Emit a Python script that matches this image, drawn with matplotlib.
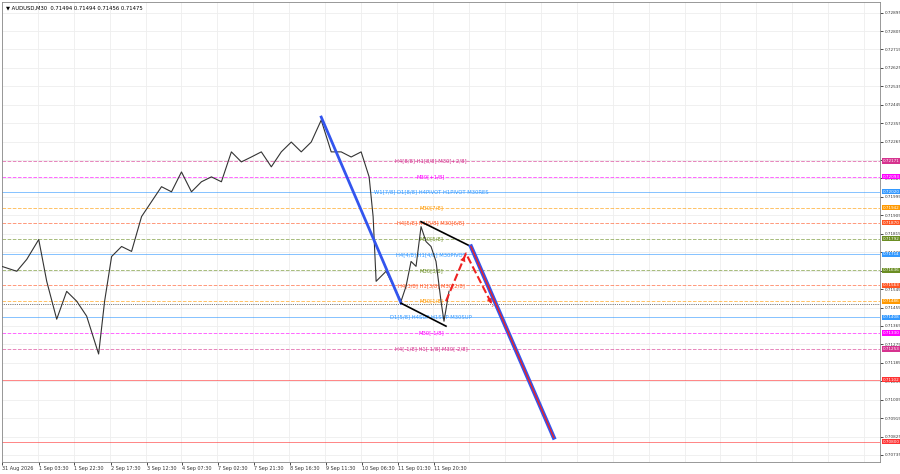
import matplotlib.pyplot as plt

# price path (bar position, close)
bar_x = [0, 15, 25, 37, 45, 55, 65, 75, 85, 97, 103, 110, 120, 130, 140, 150, 160, 170, 180, 190,
         200, 210, 220, 230, 240, 250, 260, 270, 280, 290, 300, 310, 320, 330, 340, 350, 360, 368,
         372, 375, 385, 395, 400, 405, 410, 415, 420, 425, 430, 435, 440, 443, 448]
closes = [0.71656, 0.71632, 0.71690, 0.71787, 0.71583, 0.71398, 0.71534, 0.71486, 0.71413, 0.71228,
          0.71486, 0.71704, 0.71753, 0.71729, 0.71899, 0.71972, 0.72045, 0.72020, 0.72117, 0.72020,
          0.72069, 0.72093, 0.72069, 0.72215, 0.72166, 0.72190, 0.72215, 0.72142, 0.72215, 0.72263,
          0.72215, 0.72263, 0.72370, 0.72215, 0.72215, 0.72190, 0.72215, 0.72093, 0.71899, 0.71583,
          0.71632, 0.71534, 0.71486, 0.71559, 0.71680, 0.71656, 0.71850, 0.71777, 0.71753, 0.71680,
          0.71486, 0.71388, 0.71534]

# murrey levels: price, colour, style, label
lvl_price = [0.72171, 0.72093, 0.72020, 0.71942, 0.71870, 0.71792, 0.71714, 0.71636, 0.71563,
             0.71486, 0.71408, 0.71330, 0.71253, 0.71102, 0.70800]
lvl_color = ['#d6338f', '#ff00ff', '#3399ff', '#ff9900', '#ff5522', '#6b8e23', '#3399ff', '#6b8e23',
             '#ff5522', '#ff9900', '#3399ff', '#ff00ff', '#d6338f', '#ff3333', '#ff3333']
lvl_style = ['--', '--', '-', '--', '--', '--', '-', '--', '--', '--', '-', '--', '--', '-', '-']
lvl_label = ['H4[8/8] H1[8/8] M30[+2/8]', 'M30[+1/8]', 'W1[7/8] D1[8/8] H4PIVOT H1PIVOT M30RES',
             'M30[7/8]', 'H4[5/8] H1[5/8] M30[6/8]', 'M30[5/8]', 'H4[4/8] H1[4/8] M30PIVOT',
             'M30[3/8]', 'H4[3/8] H1[3/8] M30[2/8]', 'M30[1/8]', 'D1[5/8] H4SUP H1SUP M30SUP',
             'M30[-1/8]', 'H4[-1/8] H1[-1/8] M30[-2/8]', '', '']

# projection segments
blue_a_x, blue_a_y = [320, 400], [0.72385, 0.71476]
blk_lo_x, blk_lo_y = [400, 445], [0.71476, 0.71364]
blk_hi_x, blk_hi_y = [420, 470], [0.71874, 0.71753]
proj_x, proj_y = [470, 553], [0.71753, 0.70820]
dash_x, dash_y = [445, 465, 492], [0.71486, 0.71719, 0.71461]

yticks = [0.72895, 0.72805, 0.72715, 0.72625, 0.72535, 0.72445, 0.72355, 0.72265, 0.72175, 0.72085,
          0.71995, 0.71905, 0.71815, 0.71725, 0.71635, 0.71545, 0.71455, 0.71365, 0.71275, 0.71185,
          0.71095, 0.71005, 0.70915, 0.70825, 0.70735]
xtick_pos = [0, 37, 72, 109, 145, 181, 217, 253, 289, 325, 361, 397, 433]
xtick_lab = ['31 Aug 2026', '1 Sep 03:30', '1 Sep 22:30', '2 Sep 17:30', '3 Sep 12:30', '4 Sep 07:30',
             '7 Sep 02:30', '7 Sep 21:30', '8 Sep 16:30', '9 Sep 11:30', '10 Sep 06:30',
             '11 Sep 01:30', '11 Sep 20:30']

fig = plt.figure(figsize=(9, 4.74), dpi=100)
ax = fig.add_axes([0.002, 0.025, 0.976, 0.97])
ax.set_xlim(0, 880)
ax.set_ylim(0.70700, 0.72945)

for xp in range(0, 880, 36):
    ax.axvline(xp, color='#eeeeee', lw=0.6, zorder=0)
for yp in yticks:
    ax.axhline(yp, color='#eeeeee', lw=0.6, zorder=0)

for p, c, s, lab in zip(lvl_price, lvl_color, lvl_style, lvl_label):
    ax.axhline(p, color=c, ls=s, lw=0.7, alpha=0.6, zorder=1)
    if lab:
        ax.text(430, p, lab, color=c, fontsize=3.8, ha='center', va='center', zorder=2)
    ax.text(1.003, p, f'{p:.5f}', color='white', fontsize=3.0, va='center', ha='left',
            transform=ax.get_yaxis_transform(), clip_on=False,
            bbox=dict(boxstyle='square,pad=0.15', fc=c, ec='none'))

ax.axhline(0.71470, color='black', lw=0.5, ls=':', zorder=1)
ax.plot(bar_x, closes, color='#333333', lw=0.8, zorder=3)

ax.plot(blue_a_x, blue_a_y, color='#3355ee', lw=2, zorder=4)
ax.plot(blk_lo_x, blk_lo_y, color='black', lw=1.2, zorder=4)
ax.plot(blk_hi_x, blk_hi_y, color='black', lw=1.2, zorder=4)
ax.plot(proj_x, proj_y, color='#3355ee', lw=3, zorder=4)
ax.plot(proj_x, proj_y, color='#ee2222', lw=1, zorder=5)
ax.plot(dash_x, dash_y, color='#ee2222', lw=1.5, ls='--', zorder=4)
ax.annotate('', xy=(dash_x[1], dash_y[1]), xytext=(dash_x[0] + 15, dash_y[0] + 0.00175),
            arrowprops=dict(arrowstyle='-|>', color='#ee2222', lw=0))
ax.annotate('', xy=(dash_x[2], dash_y[2]), xytext=(dash_x[2] - 3, dash_y[2] + 0.0003),
            arrowprops=dict(arrowstyle='-|>', color='#ee2222', lw=0))

ax.yaxis.tick_right()
ax.set_yticks(yticks)
ax.set_yticklabels([f'{v:.5f}' for v in yticks], fontsize=3.0, color='#333333')
ax.set_xticks(xtick_pos)
ax.set_xticklabels(xtick_lab, fontsize=3.5, color='#333333', ha='left')
ax.tick_params(length=2, width=0.5, pad=1)
for sp in ax.spines.values():
    sp.set_linewidth(0.6)
    sp.set_color('#888888')

ax.text(4, 0.72920, '▼ AUDUSD,M30  0.71494 0.71494 0.71456 0.71475', fontsize=3.8, va='center')

fig.savefig('out.png', dpi=100)
